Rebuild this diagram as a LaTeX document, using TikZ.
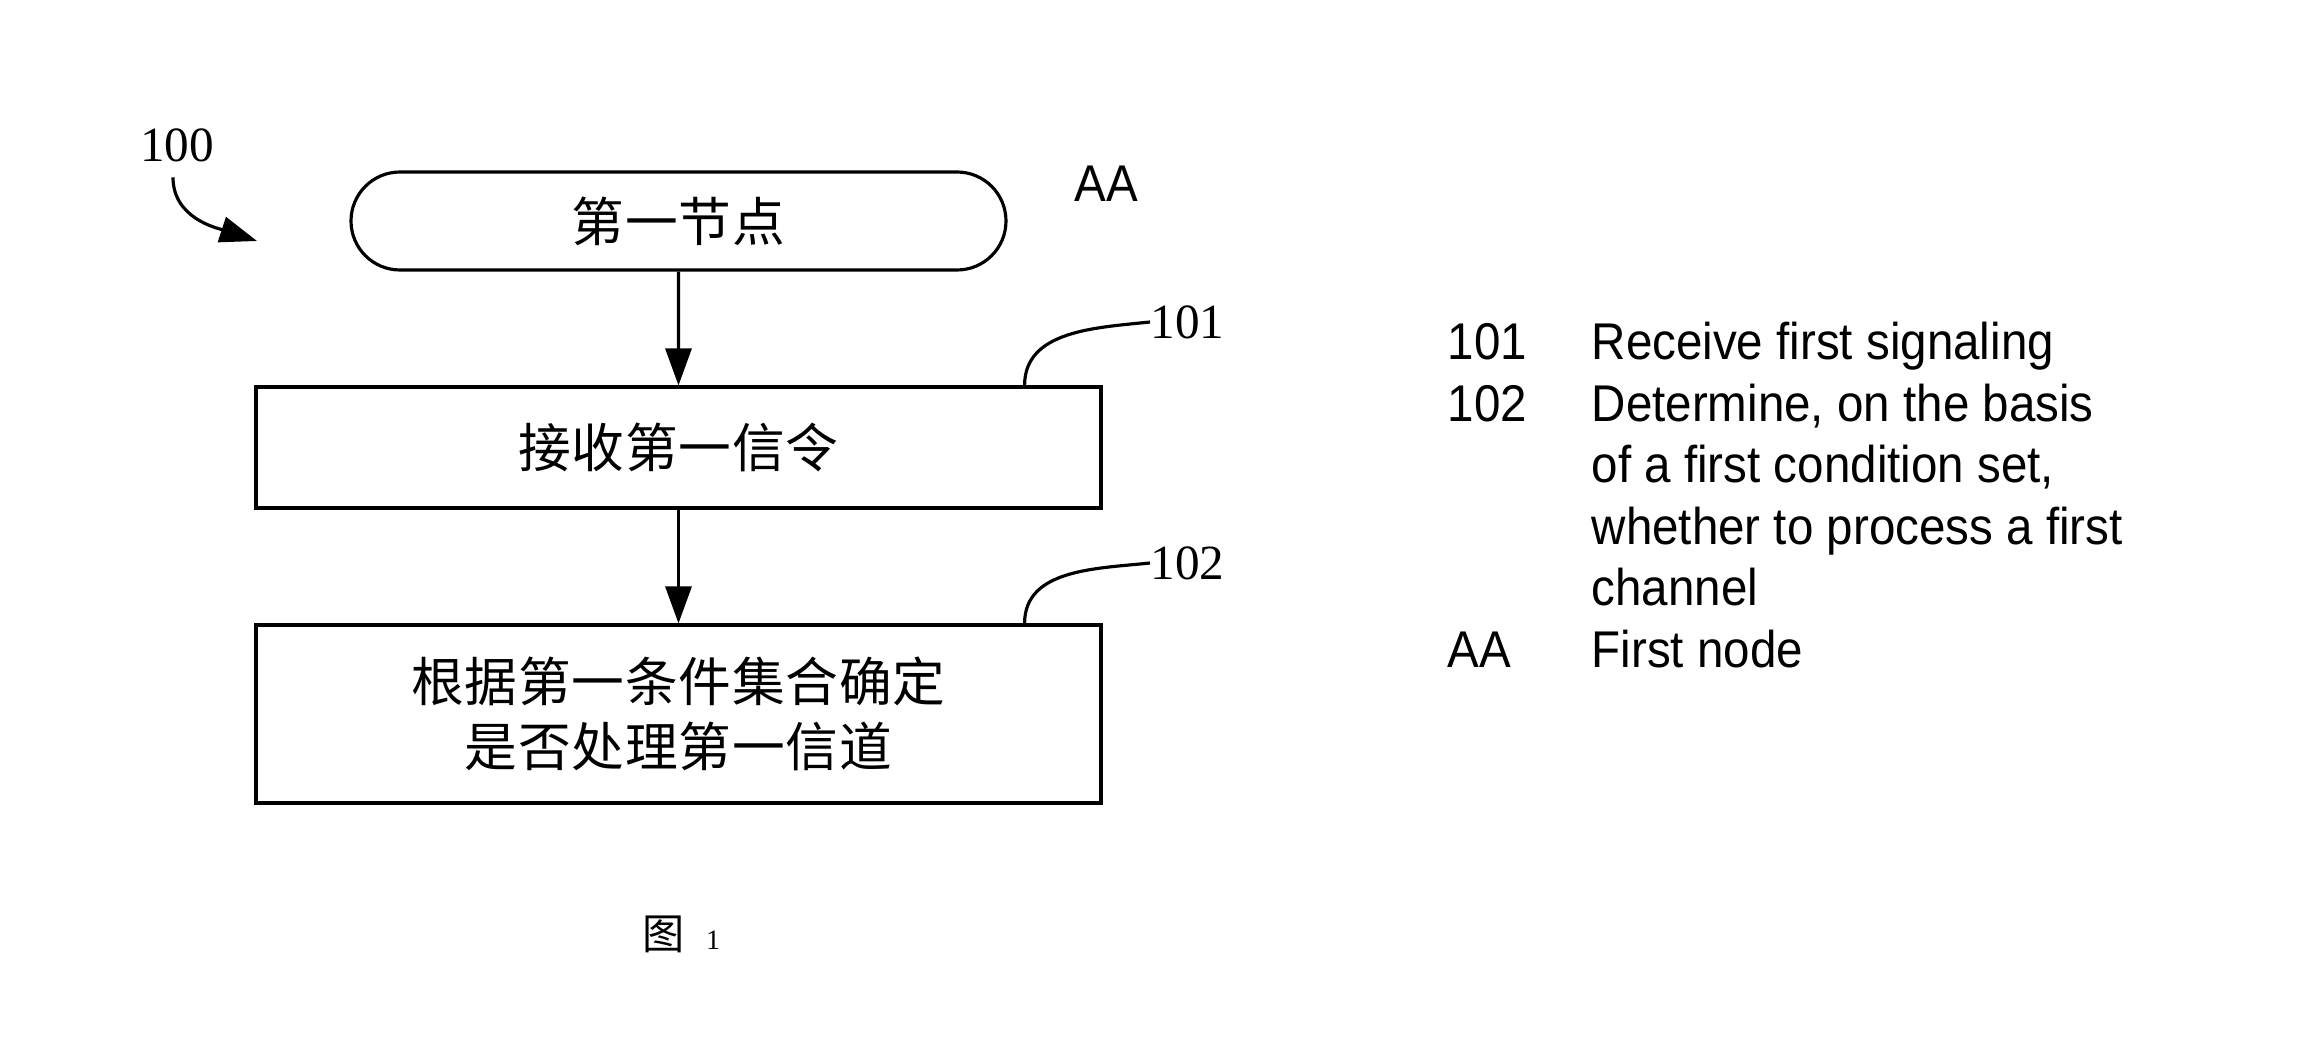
\documentclass[tikz,border=0pt]{standalone}
\usepackage{fontspec}
\usepackage{tikz}
\usetikzlibrary{arrows.meta,shapes.misc}
\newfontfamily\cjkfont{Noto Sans CJK SC}
\newfontfamily\cjkwide{Noto Sans CJK SC}[LetterSpace=1.5]
\newfontfamily\numfont{Liberation Serif}
\newfontfamily\legfont{Liberation Sans}[FakeStretch=0.92]

\begin{document}
\begin{tikzpicture}[x=1cm,y=1cm,
  flowbox/.style={draw,line width=0.9pt,minimum width=8.45cm,inner sep=0pt,align=center,
    font=\cjkwide\fontsize{15}{18.5}\selectfont},
  flowarrow/.style={line width=0.9pt,-{Triangle[length=0.37cm,width=0.26cm]}},
  leader/.style={line width=0.9pt},
  numlbl/.style={font=\numfont\fontsize{14}{16}\selectfont,inner sep=0pt},
  legtext/.style={font=\legfont\fontsize{14.7}{17.5}\selectfont,inner sep=0pt,anchor=base west,align=left}]
\useasboundingbox (0,0) rectangle (23.23,-10.37);
\node[flowbox,rounded rectangle,minimum width=6.55cm,minimum height=0.98cm] (start) at (6.785,-2.21) {第一节点};
\node[flowbox,minimum height=1.21cm] (recv) at (6.785,-4.475) {接收第一信令};
\node[flowbox,minimum height=1.78cm] (decide) at (6.785,-7.14) {根据第一条件集合确定\\是否处理第一信道};
\draw[flowarrow] (start) -- (recv);
\draw[flowarrow] (recv) -- (decide);
\node[numlbl] (lbl100) at (1.77,-1.45) {100};
\coordinate (tip100) at (2.57,-2.41);
\draw[flowarrow] ([shift={(-0.04,-0.15)}]lbl100.south) to[out=-90,in=162] (tip100);
\node[font=\legfont\fontsize{14.7}{16}\selectfont,inner sep=0pt] (aa) at (11.06,-1.84) {AA};
\node[numlbl,anchor=west] (n101) at (11.50,-3.22) {101};
\draw[leader] ([xshift=-0.78cm]recv.north east) to[out=90,in=186] (n101.west);
\node[numlbl,anchor=west] (n102) at (11.50,-5.63) {102};
\draw[leader] ([xshift=-0.78cm]decide.north east) to[out=90,in=186] (n102.west);
\node[legtext] (k101) at (14.47,-3.595) {101};
\node[legtext] (t101) at (15.91,-3.595) {Receive first signaling};
\node[legtext] (k102) at (14.47,-4.211) {102};
\node[legtext] (t102) at (15.91,-6.059) {Determine, on the basis\\of a first condition set,\\whether to process a first\\channel};
\node[legtext] (kaa) at (14.47,-6.675) {AA};
\node[legtext] (taa) at (15.91,-6.675) {First node};
\node[anchor=base,inner sep=0pt] (fig) at (6.815,-9.49)
  {{\cjkfont\fontsize{12}{14}\selectfont 图}\hspace{0.21cm}{\numfont\fontsize{8}{10}\selectfont 1}};
\end{tikzpicture}
\end{document}
